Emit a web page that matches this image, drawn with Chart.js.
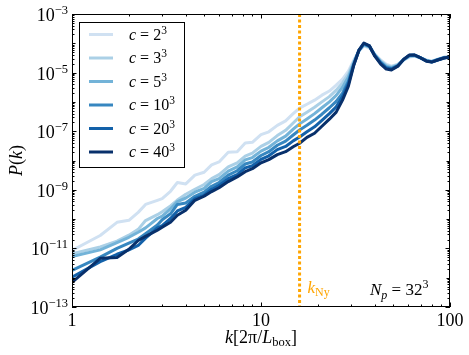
<!DOCTYPE html>
<html>
<head>
<meta charset="utf-8">
<script src="https://cdn.jsdelivr.net/npm/chart.js@4.4.1/dist/chart.umd.min.js"></script>
<style>
  html, body { margin: 0; padding: 0; background: #fff; }
  #wrap { width: 469px; height: 355px; }
</style>
</head>
<body>
<div id="wrap"><canvas id="chart" width="469" height="355"></canvas></div>
<script>
// k in units of 2pi/L_box
const kValues = [1, 1.41, 1.73, 2, 2.24, 2.45, 2.83, 3, 3.32, 3.61, 4, 4.47, 5, 5.48, 6, 6.71, 7.48, 8.25, 9, 10,
  11, 12.2, 13.5, 14.8, 16, 17.5, 19.2, 21, 23, 25, 27, 29, 31, 33, 35, 37.5, 40, 43, 46, 49,
  53, 57, 61, 65, 70, 75, 80, 86, 93, 100];

// log10 P(k)
const logP_c2 = [-11.07, -10.56, -10.11, -10.04, -9.77, -9.50, -9.36, -9.30, -9.05, -8.75,
  -8.80, -8.50, -8.40, -8.15, -8.05, -7.72, -7.70, -7.40, -7.38, -7.12,
  -7.02, -6.80, -6.65, -6.40, -6.21, -6.08, -5.94, -5.77, -5.63, -5.43,
  -5.22, -4.95, -4.57, -4.26, -4.09, -4.16, -4.37, -4.57, -4.71, -4.78,
  -4.71, -4.57, -4.47, -4.44, -4.50, -4.57, -4.61, -4.54, -4.47, -4.47];
const logP_c3 = [-11.18, -10.95, -10.75, -10.55, -10.35, -10.05, -9.85, -9.75, -9.55, -9.35,
  -9.15, -8.98, -8.82, -8.62, -8.48, -8.22, -8.08, -7.85, -7.75, -7.52,
  -7.38, -7.15, -6.97, -6.72, -6.51, -6.35, -6.18, -6.00, -5.82, -5.60,
  -5.35, -5.05, -4.62, -4.25, -4.07, -4.13, -4.38, -4.60, -4.75, -4.80,
  -4.73, -4.56, -4.45, -4.43, -4.50, -4.58, -4.62, -4.55, -4.48, -4.47];
const logP_c5 = [-11.28, -11.05, -10.80, -10.62, -10.45, -10.30, -9.98, -9.90, -9.65, -9.40,
  -9.28, -9.08, -8.95, -8.72, -8.62, -8.36, -8.22, -7.98, -7.90, -7.68,
  -7.55, -7.33, -7.17, -6.93, -6.75, -6.58, -6.40, -6.20, -6.00, -5.78,
  -5.50, -5.15, -4.66, -4.24, -4.05, -4.12, -4.40, -4.63, -4.78, -4.83,
  -4.75, -4.55, -4.43, -4.42, -4.50, -4.59, -4.63, -4.56, -4.49, -4.47];
const logP_c10 = [-11.75, -11.30, -11.00, -10.82, -10.68, -10.50, -10.20, -10.02, -9.82, -9.50,
  -9.45, -9.22, -9.08, -8.88, -8.75, -8.50, -8.35, -8.12, -8.05, -7.83,
  -7.70, -7.48, -7.34, -7.13, -6.96, -6.80, -6.62, -6.42, -6.20, -5.98,
  -5.70, -5.30, -4.70, -4.24, -4.03, -4.10, -4.41, -4.66, -4.82, -4.86,
  -4.76, -4.55, -4.42, -4.41, -4.50, -4.60, -4.63, -4.56, -4.49, -4.47];
const logP_c20 = [-11.98, -11.45, -11.20, -11.05, -10.90, -10.65, -10.30, -10.22, -9.98, -9.72,
  -9.60, -9.30, -9.18, -8.98, -8.85, -8.62, -8.48, -8.25, -8.18, -7.96,
  -7.84, -7.63, -7.52, -7.33, -7.20, -7.02, -6.85, -6.63, -6.40, -6.17,
  -5.82, -5.38, -4.72, -4.23, -4.01, -4.09, -4.42, -4.68, -4.85, -4.88,
  -4.77, -4.54, -4.41, -4.40, -4.50, -4.60, -4.64, -4.57, -4.50, -4.47];
const logP_c40 = [-12.16, -11.34, -11.31, -11.03, -10.73, -10.59, -10.38, -10.28, -10.11, -9.87,
  -9.70, -9.36, -9.22, -9.06, -8.93, -8.72, -8.56, -8.38, -8.28, -8.08,
  -7.97, -7.80, -7.70, -7.53, -7.41, -7.21, -7.07, -6.83, -6.59, -6.35,
  -5.94, -5.46, -4.74, -4.23, -3.99, -4.09, -4.44, -4.71, -4.88, -4.91,
  -4.78, -4.54, -4.40, -4.40, -4.50, -4.61, -4.64, -4.57, -4.50, -4.47];

const cBases = ['2', '3', '5', '10', '20', '40'];
const seriesLogs = [logP_c2, logP_c3, logP_c5, logP_c10, logP_c20, logP_c40];
const seriesColors = ['#d0e1f2', '#abd0e6', '#73b3d8', '#3787c0', '#1361a9', '#08306b'];

const kNyquist = 16;
const xMajorTicks = [1, 10, 100];
const xTickLabels = ['1', '10', '100'];
const yLabelExps = [-3, -5, -7, -9, -11, -13];

const serif = '"Liberation Serif", "DejaVu Serif", serif';

function drawParts(ctx, parts, x, y, align) {
  // parts: [text, size, italic, dy]
  let w = 0;
  parts.forEach((p) => {
    ctx.font = (p[2] ? 'italic ' : '') + p[1] + 'px ' + serif;
    w += ctx.measureText(p[0]).width;
  });
  let cx = align === 'right' ? x - w : align === 'center' ? x - w / 2 : x;
  ctx.textAlign = 'left';
  ctx.textBaseline = 'alphabetic';
  parts.forEach((p) => {
    ctx.font = (p[2] ? 'italic ' : '') + p[1] + 'px ' + serif;
    ctx.fillText(p[0], cx, y + (p[3] || 0));
    cx += ctx.measureText(p[0]).width;
  });
}

const decorations = {
  id: 'decorations',
  afterDraw(chart) {
    const ctx = chart.ctx;
    const a = chart.chartArea;
    const xs = chart.scales.x;
    const ys = chart.scales.y;
    ctx.save();

    // frame
    ctx.strokeStyle = '#000';
    ctx.lineWidth = 1;
    ctx.strokeRect(Math.round(a.left) + 0.5, Math.round(a.top) + 0.5,
      Math.round(a.right - a.left) - 1, Math.round(a.bottom - a.top) - 1);

    // x ticks (inward, top and bottom)
    ctx.beginPath();
    for (let d = 1; d <= 100; d *= 10) {
      for (let m = 1; m <= 9; m++) {
        const v = d * m;
        if (v > 100) break;
        const px = Math.round(xs.getPixelForValue(v)) + 0.5;
        const len = m === 1 ? 4.5 : 2.5;
        ctx.moveTo(px, a.bottom); ctx.lineTo(px, a.bottom - len);
        ctx.moveTo(px, a.top); ctx.lineTo(px, a.top + len);
      }
    }
    // y ticks (inward, left and right)
    for (let e = -13; e <= -3; e++) {
      for (let m = 1; m <= 9; m++) {
        const v = m * Math.pow(10, e);
        if (v > 1.0001e-3) break;
        const py = Math.round(ys.getPixelForValue(v)) + 0.5;
        let len = 2.5;
        if (m === 1) len = yLabelExps.includes(e) ? 4.5 : 3.5;
        ctx.moveTo(a.left, py); ctx.lineTo(a.left + len, py);
        ctx.moveTo(a.right, py); ctx.lineTo(a.right - len, py);
      }
    }
    ctx.stroke();

    ctx.fillStyle = '#000';
    // x tick labels
    xMajorTicks.forEach((v, i) => {
      drawParts(ctx, [[xTickLabels[i], 18, false, 0]], xs.getPixelForValue(v), a.bottom + 19, 'center');
    });
    // y tick labels
    yLabelExps.forEach((e) => {
      const py = ys.getPixelForValue(Math.pow(10, e));
      drawParts(ctx, [['10', 18, false, 0], ['\u2212' + Math.abs(e), 12.5, false, -7]], a.left - 4, py + 7, 'right');
    });

    // axis titles
    drawParts(ctx, [['k', 18, true, 0], ['[2\u03c0/', 18, false, 0], ['L', 18, true, 0], ['box', 12.5, false, 3], [']', 18, false, 0]],
      (a.left + a.right) / 2, 343, 'center');
    ctx.save();
    ctx.translate(22, (a.top + a.bottom) / 2);
    ctx.rotate(-Math.PI / 2);
    drawParts(ctx, [['P', 18, true, 0], ['(', 18, false, 0], ['k', 18, true, 0], [')', 18, false, 0]], 0, 0, 'center');
    ctx.restore();

    // annotations
    drawParts(ctx, [['N', 17, true, 0], ['p', 12, true, 4], [' = 32', 17, false, 0], ['3', 12, false, -7]], 370, 295, 'left');
    ctx.fillStyle = '#ffa500';
    drawParts(ctx, [['k', 17, true, 0], ['Ny', 12, false, 3]], xs.getPixelForValue(kNyquist) + 8, 293, 'left');

    // legend
    const lx = 79, ly = 22, lw = 105, lh = 145;
    ctx.fillStyle = '#fff';
    ctx.fillRect(lx, ly, lw, lh);
    ctx.strokeStyle = '#000';
    ctx.lineWidth = 1;
    ctx.strokeRect(lx + 0.5, ly + 0.5, lw, lh);
    cBases.forEach((b, i) => {
      const ry = 34.5 + i * 23.5;
      ctx.strokeStyle = seriesColors[i];
      ctx.lineWidth = 3;
      ctx.beginPath();
      ctx.moveTo(89, ry); ctx.lineTo(113, ry);
      ctx.stroke();
      ctx.fillStyle = '#000';
      drawParts(ctx, [['c', 16, true, 0], [' = ' + b, 16, false, 0], ['3', 11.5, false, -6]], 129, ry + 5, 'left');
    });

    ctx.restore();
  }
};

const datasets = seriesLogs.map((logs, i) => ({
  label: 'c = ' + cBases[i] + '^3',
  data: kValues.map((k, j) => ({ x: k, y: Math.pow(10, logs[j]) })),
  borderColor: seriesColors[i],
  borderWidth: 3,
  pointRadius: 0,
  tension: 0,
  fill: false,
  borderJoinStyle: 'round',
  order: seriesLogs.length - i
}));

datasets.push({
  label: 'k_Ny',
  data: [{ x: kNyquist, y: 1e-3 }, { x: kNyquist, y: 1e-13 }],
  borderColor: '#ffa500',
  borderWidth: 3,
  borderDash: [3, 2.5],
  pointRadius: 0,
  fill: false,
  order: -1
});

new Chart(document.getElementById('chart'), {
  type: 'line',
  data: { datasets: datasets },
  options: {
    responsive: false,
    animation: false,
    devicePixelRatio: 1,
    layout: { padding: { left: 72, right: 19, top: 14, bottom: 48 } },
    plugins: { legend: { display: false }, tooltip: { enabled: false } },
    scales: {
      x: { type: 'logarithmic', min: 1, max: 100, display: false },
      y: { type: 'logarithmic', min: 1e-13, max: 1e-3, display: false }
    }
  },
  plugins: [decorations]
});
</script>
</body>
</html>
